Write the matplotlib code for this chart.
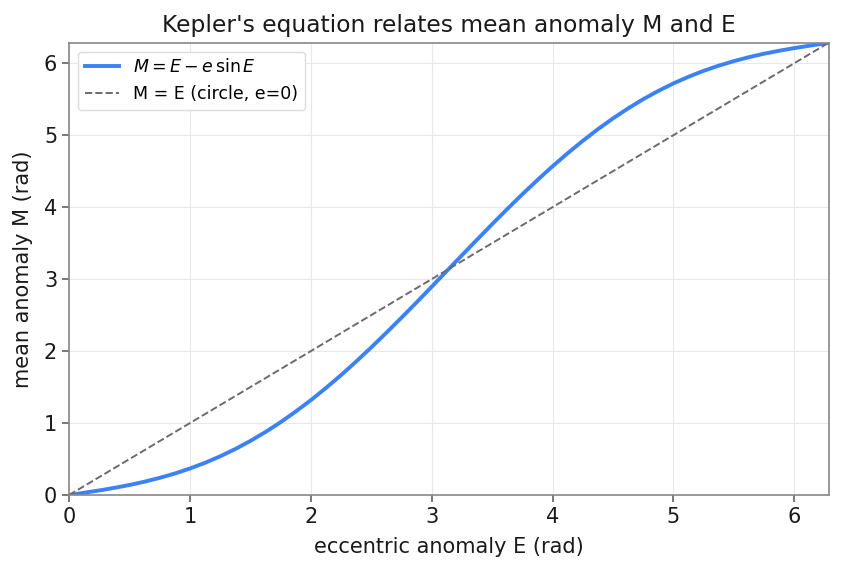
import numpy as np
import matplotlib.pyplot as plt

# values (eccentric anomaly E vs mean anomaly M, rad)
E_vals = [0.0, 0.125, 0.25, 0.375, 0.5, 0.625, 0.75, 0.875, 1.0, 1.125, 1.25, 1.375,
          1.5, 1.625, 1.75, 1.875, 2.0, 2.125, 2.25, 2.375, 2.5, 2.625, 2.75, 2.875,
          3.0, 3.125, 3.25, 3.375, 3.5, 3.625, 3.75, 3.875, 4.0, 4.125, 4.25, 4.375,
          4.5, 4.625, 4.75, 4.875, 5.0, 5.125, 5.25, 5.375, 5.5, 5.625, 5.75, 5.875,
          6.0, 6.125, 6.25, 6.283]
M_vals = [0.0, 0.032, 0.064, 0.100, 0.140, 0.186, 0.239, 0.299, 0.369, 0.448, 0.538, 0.639,
          0.752, 0.876, 1.012, 1.160, 1.318, 1.487, 1.666, 1.855, 2.051, 2.255, 2.464, 2.677,
          2.894, 3.113, 3.331, 3.548, 3.763, 3.974, 4.179, 4.377, 4.568, 4.749, 4.921, 5.083,
          5.233, 5.372, 5.500, 5.615, 5.719, 5.812, 5.894, 5.966, 6.029, 6.084, 6.132, 6.173,
          6.210, 6.243, 6.275, 6.283]
circle_E = [0.0, 6.283]
circle_M = [0.0, 6.283]
ticks = [0, 1, 2, 3, 4, 5, 6]

fig, ax = plt.subplots(figsize=(8.42, 5.71), dpi=100)
fig.subplots_adjust(left=0.082, right=0.984, top=0.925, bottom=0.133)

ax.plot(E_vals, M_vals, color='#3b82f6', lw=2.8, label=r'$M = E - e\,\sin E$')
ax.plot(circle_E, circle_M, color='#6b6b6b', lw=1.4, ls='--', label='M = E (circle, e=0)')

ax.set_xlim(0, 2*np.pi)
ax.set_ylim(0, 2*np.pi)
ax.set_xticks(ticks)
ax.set_yticks(ticks)
ax.grid(True, color='#e6e9ec', lw=0.8)
for s in ax.spines.values():
    s.set_color('#888888')
    s.set_linewidth(1.2)
ax.tick_params(colors='#555555', labelcolor='#1a1a1a', labelsize=15, length=5, width=1.1)

ax.set_xlabel('eccentric anomaly E (rad)', fontsize=15, color='#1a1a1a', labelpad=7)
ax.set_ylabel('mean anomaly M (rad)', fontsize=15, color='#1a1a1a', labelpad=8)
ax.set_title("Kepler's equation relates mean anomaly M and E", fontsize=16.8,
             color='#1a1a1a', pad=8)
ax.legend(loc='upper left', fontsize=12.5, framealpha=1, edgecolor='#dddddd')

fig.savefig('out.png')
